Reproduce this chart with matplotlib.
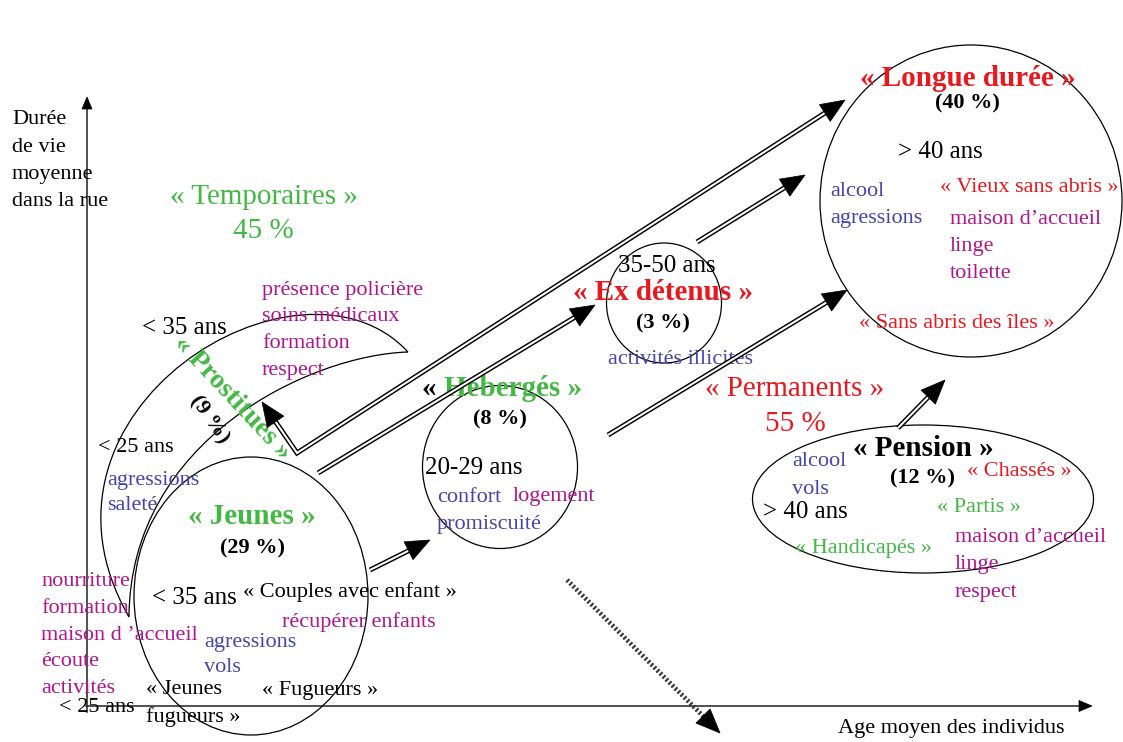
import matplotlib
matplotlib.use('Agg')
import matplotlib.pyplot as plt
from matplotlib.patches import Ellipse, Polygon, PathPatch
from matplotlib.path import Path
import numpy as np

plt.rcParams['font.family'] = ['Liberation Serif', 'DejaVu Serif']

# --- textes du schema ---
axe_y = ['Durée', 'de vie', 'moyenne', 'dans la rue']
axe_x = 'Age moyen des individus'
familles = ['« Temporaires »', '« Permanents »']
familles_pct = ['45 %', '55 %']

groupes = ['« Jeunes »', '« Prostitués »', '« Hébergés »', '« Ex détenus »', '« Longue durée »', '« Pension »']
parts = ['(29 %)', '(9 %)', '(8 %)', '(3 %)', '(40 %)', '(12 %)']
ages = ['< 35 ans', '< 35 ans', '20-29 ans', '35-50 ans', '> 40 ans', '> 40 ans']
ages_min = ['< 25 ans', '< 25 ans']

besoins_jeunes = ['nourriture', 'formation', 'maison d ’accueil', 'écoute', 'activités']
besoins_prost = ['présence policière', 'soins médicaux', 'formation', 'respect']
besoins_longue = ['maison d’accueil', 'linge', 'toilette']
besoins_pension = ['maison d’accueil', 'linge', 'respect']
risques_prost = ['agressions', 'saleté']
risques_jeunes = ['agressions', 'vols']
risques_heb = ['confort', 'promiscuité']
risques_longue = ['alcool', 'agressions']
risques_pension = ['alcool', 'vols']
sous_jeunes = ['« Couples avec enfant »', 'récupérer enfants', '« Jeunes', 'fugueurs »', '« Fugueurs »']
sous_heb = 'logement'
sous_ex = 'activités illicites'
sous_longue = ['« Vieux sans abris »', '« Sans abris des îles »']
sous_pension = ['« Chassés »', '« Partis »', '« Handicapés »']

GREEN = '#44b844'
RED = '#e8191e'
MAG = '#b0168c'
BLUE = '#4646aa'
BIG, BODY, AGE = 21, 16, 18

fig = plt.figure(figsize=(11.23, 7.42), dpi=100)
ax = fig.add_axes([0, 0, 1, 1])
ax.set_xlim(0, 1123)
ax.set_ylim(742, 0)
ax.axis('off')


def txt(x, y, s, c='black', size=BODY, weight='normal', ha='left', rot=0):
    return ax.text(x, y, s, color=c, fontsize=size, fontweight=weight, ha=ha,
                   va='center', rotation=rot, rotation_mode='anchor')


def lignes(x, y0, items, c, step=26.7, size=BODY):
    for i, s in enumerate(items):
        txt(x, y0 + i * step, s, c, size)


def tete(tip, prev, L=24, hw=10):
    tip = np.asarray(tip, float)
    u = tip - np.asarray(prev, float)
    u = u / np.hypot(*u)
    n = np.array([-u[1], u[0]])
    base = tip - u * L
    ax.add_patch(Polygon([tip, base + n * hw, base - n * hw], closed=True,
                         fc='black', ec='black', lw=0.5, zorder=5))
    return base + u * 3


def fleche(pts, both=False, dotted=False, L=24, hw=10):
    pts = np.array(pts, float)
    shaft = pts.copy()
    shaft[-1] = tete(pts[-1], pts[-2], L, hw)
    if both:
        shaft[0] = tete(pts[0], pts[1], L, hw)
    if dotted:
        ax.plot(shaft[:, 0], shaft[:, 1], color='#3a3a3a', lw=3.4,
                ls=(0, (0.45, 0.45)), zorder=4)
    else:
        ax.plot(shaft[:, 0], shaft[:, 1], color='black', lw=3.6,
                solid_joinstyle='miter', solid_capstyle='butt', zorder=4)
        ax.plot(shaft[:, 0], shaft[:, 1], color='white', lw=1.5,
                solid_joinstyle='miter', solid_capstyle='butt', zorder=4)


def cercle(cx, cy, w, h):
    ax.add_patch(Ellipse((cx, cy), w, h, fill=False, ec='black', lw=0.9, zorder=3))


# axes
ax.plot([87, 87], [712, 108], color='#222222', lw=1.1)
tete((87, 97), (87, 200), L=12, hw=5)
ax.plot([86, 1080], [706, 706], color='#222222', lw=1.1)
tete((1092, 706), (900, 706), L=13, hw=5.5)
lignes(12, 120, axe_y, 'black', step=27)
txt(838, 728, axe_x)

# formes
cercle(251, 596, 234, 278)     # Jeunes
cercle(500, 467, 155, 163)     # Hébergés
cercle(664, 303, 115, 120)     # Ex détenus
cercle(971, 201, 302, 312)     # Longue durée
cercle(923, 499, 341, 148)     # Pension

# croissant des prostitués
verts = [(408, 352), (300, 235), (10, 410), (129, 617),
         (130, 440), (310, 355), (408, 352)]
codes = [Path.MOVETO, Path.CURVE4, Path.CURVE4, Path.CURVE4,
         Path.CURVE4, Path.CURVE4, Path.CURVE4]
ax.add_patch(PathPatch(Path(verts, codes), fill=False, ec='black', lw=0.9, zorder=3))

# fleches
fleche([(262, 402), (297, 453), (845, 100)], both=True)
fleche([(318, 473), (595, 305)])
fleche([(697, 242), (805, 175)])
fleche([(608, 435), (847, 290)])
fleche([(370, 570), (430, 540)])
fleche([(898, 428), (945, 380)])
fleche([(567, 580), (720, 733)], dotted=True)

# familles
txt(264, 197, familles[0], GREEN, BIG, ha='center')
txt(263, 231, familles_pct[0], GREEN, BIG, ha='center')
txt(795, 389, familles[1], RED, BIG, ha='center')
txt(795, 424, familles_pct[1], RED, BIG, ha='center')

# Prostitués
txt(142, 328, ages[1], size=AGE)
lignes(262, 290, besoins_prost, MAG)
txt(232, 398, groupes[1], GREEN, 20, 'bold', ha='center', rot=-47)
txt(209, 420, parts[1], 'black', 16, 'bold', ha='center', rot=-55)
txt(98, 448, ages_min[0])
lignes(107, 480, risques_prost, BLUE, step=26)

# Jeunes
txt(252, 516, groupes[0], GREEN, BIG, 'bold', ha='center')
txt(252, 548, parts[0], 'black', BODY, 'bold', ha='center')
lignes(41, 582, besoins_jeunes, MAG, step=26.6)
txt(59, 708, ages_min[1])
txt(152, 598, ages[0], size=AGE)
txt(243, 592, sous_jeunes[0])
txt(282, 622, sous_jeunes[1], MAG)
lignes(204, 642, risques_jeunes, BLUE, step=26)
lignes(146, 690, sous_jeunes[2:4], 'black', step=27)
txt(262, 690, sous_jeunes[4])

# Hébergés
t = txt(422, 388, '« ', 'black', BIG, 'bold')
fig.canvas.draw()
w = t.get_window_extent().width
txt(422 + w, 388, groupes[2][2:], GREEN, BIG, 'bold')
txt(500, 419, parts[2], 'black', BODY, 'bold', ha='center')
txt(425, 468, ages[2], size=AGE)
txt(437, 497, risques_heb[0], BLUE)
txt(513, 497, sous_heb, MAG)
txt(437, 525, risques_heb[1], BLUE)

# Ex détenus
txt(618, 266, ages[3], size=AGE)
txt(663, 292, groupes[3], RED, BIG, 'bold', ha='center')
txt(663, 323, parts[3], 'black', BODY, 'bold', ha='center')
txt(608, 360, sous_ex, BLUE)

# Longue durée
txt(968, 78, groupes[4], RED, BIG, 'bold', ha='center')
txt(967, 103, parts[4], 'black', BODY, 'bold', ha='center')
txt(898, 152, ages[4], size=AGE)
lignes(830, 192, risques_longue, BLUE, step=26)
txt(940, 188, sous_longue[0], RED)
lignes(950, 220, besoins_longue, MAG, step=26.5)
txt(859, 323, sous_longue[1], RED)

# Pension
txt(923, 448, groupes[5], 'black', BIG, 'bold', ha='center')
txt(923, 478, parts[5], 'black', BODY, 'bold', ha='center')
lignes(792, 462, risques_pension, BLUE, step=28)
txt(763, 512, ages[5], size=AGE)
txt(967, 472, sous_pension[0], RED)
txt(937, 508, sous_pension[1], GREEN)
txt(795, 548, sous_pension[2], GREEN)
lignes(955, 538, besoins_pension, MAG, step=27)

fig.savefig('out.png', dpi=100, facecolor='white')
